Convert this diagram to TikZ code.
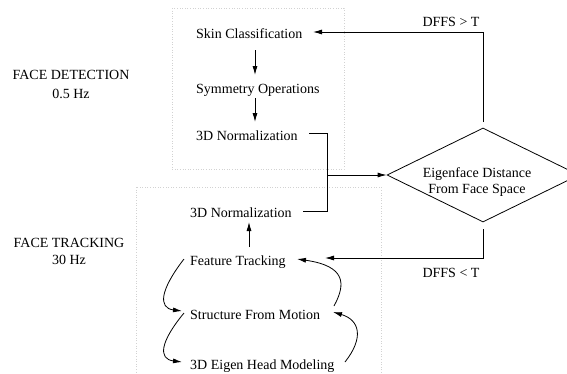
\documentclass[tikz,border=0pt]{standalone}
\usepackage{fontspec}
\setmainfont{Liberation Serif}
\usetikzlibrary{arrows.meta,shapes.geometric}
\begin{document}
\begin{tikzpicture}[x=1pt,y=-1pt,
  lbl/.style={inner sep=0pt,anchor=base west,font=\fontsize{14}{16}\selectfont},
  clbl/.style={inner sep=0pt,anchor=base,font=\fontsize{14}{16}\selectfont},
  conn/.style={line width=0.8pt},
  arr/.style={conn,-{Latex[length=9pt,width=5pt]}},
  zone/.style={gray!35,dotted,line width=0.6pt}]
\clip (0,0) rectangle (567,373);
\fill[white] (0,0) rectangle (567,373);
% dotted zones
\draw[zone] (172,8) rectangle (344,169);
\draw[zone] (136,187) rectangle (381,390);
% left labels
\node[clbl] (fd) at (71,79) {FACE DETECTION};
\node[clbl] (fdh) at (71,98) {0.5 Hz};
\node[clbl] (ft) at (69,247) {FACE TRACKING};
\node[clbl] (fth) at (69,264) {30 Hz};
% detection steps
\node[lbl] (skin) at (196,38) {Skin Classification};
\node[lbl] (sym) at (196,93) {Symmetry Operations};
\node[lbl] (norm1) at (196,140) {3D Normalization};
% tracking steps
\node[lbl] (norm2) at (190,217) {3D Normalization};
\node[lbl] (feat) at (190,265) {Feature Tracking};
\node[lbl] (sfm) at (190,319) {Structure From Motion};
\node[lbl] (eig) at (190,369) {3D Eigen Head Modeling};
% decision
\node[draw,conn,shape=diamond,minimum width=192pt,minimum height=94pt,inner sep=0pt] (dia) at (483,175) {};
\node[clbl] (dt1) at (477,177) {Eigenface Distance};
\node[clbl] (dt2) at (477,193) {From Face Space};
\node[clbl] (gt) at (451,26) {DFFS > T};
\node[clbl] (lt) at (451,277) {DFFS < T};
% coordinates
\coordinate (a1) at (255,50);
\coordinate (a2) at (255,75);
\coordinate (b1) at (255,98);
\coordinate (b2) at (255,122);
\coordinate (j1) at (309,133);
\coordinate (j2) at (327,133);
\coordinate (j3) at (327,211);
\coordinate (j4) at (303,211);
\coordinate (jm) at (327,175);
\coordinate (t0) at (483,122);
\coordinate (t1) at (483,32);
\coordinate (t2) at (313,32);
\coordinate (u0) at (483,229);
\coordinate (u1) at (483,258);
\coordinate (u2) at (325,258);
\coordinate (f1) at (249,247);
\coordinate (f2) at (249,222);
\coordinate (l1s) at (184,259);
\coordinate (l1e) at (182,311);
\coordinate (l2s) at (184,313);
\coordinate (l2e) at (182,362);
\coordinate (r1s) at (345,362);
\coordinate (r1e) at (333,312);
\coordinate (r2s) at (334,306);
\coordinate (r2e) at (297,259);
% connectors
\draw[arr] (a1) -- (a2);
\draw[arr] (b1) -- (b2);
\draw[conn] (j1) -- (j2) -- (j3) -- (j4);
\draw[arr] (jm) -- (dia.west);
\draw[arr] (t0) -- (t1) -- (t2);
\draw[arr] (u0) -- (u1) -- (u2);
\draw[arr] (f1) -- (f2);
\draw[arr] (l1s) .. controls (160,290) and (158,308) .. (l1e);
\draw[arr] (l2s) .. controls (160,342) and (158,359) .. (l2e);
\draw[arr] (r1s) .. controls (364,338) and (360,320) .. (r1e);
\draw[arr] (r2s) .. controls (346,284) and (346,266) .. (r2e);
\end{tikzpicture}
\end{document}
